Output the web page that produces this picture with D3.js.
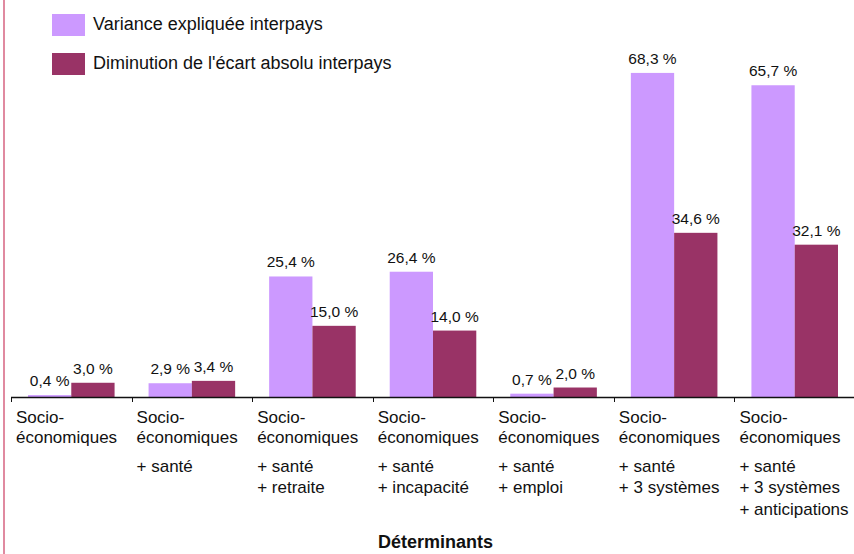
<!DOCTYPE html>
<html>
<head>
<meta charset="utf-8">
<script src="https://cdn.jsdelivr.net/npm/d3@7"></script>
<style>
  html, body { margin: 0; padding: 0; background: #fff; }
  svg { display: block; font-family: Arial, "Liberation Sans", sans-serif; }
</style>
</head>
<body>
<svg id="chart" width="854" height="554"></svg>
<script>
// ---- data ----
const categories = [
  ["Socio-", "économiques"],
  ["Socio-", "économiques", "+ santé"],
  ["Socio-", "économiques", "+ santé", "+ retraite"],
  ["Socio-", "économiques", "+ santé", "+ incapacité"],
  ["Socio-", "économiques", "+ santé", "+ emploi"],
  ["Socio-", "économiques", "+ santé", "+ 3 systèmes"],
  ["Socio-", "économiques", "+ santé", "+ 3 systèmes", "+ anticipations"]
];
const seriesNames = ["Variance expliquée interpays", "Diminution de l'écart absolu interpays"];
const varianceValues = [0.4, 2.9, 25.4, 26.4, 0.7, 68.3, 65.7];
const diminutionValues = [3.0, 3.4, 15.0, 14.0, 2.0, 34.6, 32.1];
const xAxisTitle = "Déterminants";
const colors = ["#cc99ff", "#993366"];

// ---- layout ----
const svg = d3.select("#chart");
const baseY = 397;
const x = d3.scaleBand().domain(d3.range(categories.length)).range([11, 855]).paddingInner(0).paddingOuter(0);
const y = d3.scaleLinear().domain([0, 70]).range([baseY, baseY - 70 * 4.745]);
const inner = d3.scaleBand().domain([0, 1]).range([17, x.bandwidth() - 17]);

// left pink border
svg.append("rect").attr("x", 3).attr("y", 0).attr("width", 2).attr("height", 554).attr("fill", "#e08aa0");

const series = [varianceValues, diminutionValues];
series.forEach((vals, si) => {
  const g = svg.append("g");
  g.selectAll("rect").data(vals).join("rect")
    .attr("x", (d, i) => x(i) + inner(si))
    .attr("y", d => y(d))
    .attr("width", inner.bandwidth())
    .attr("height", d => y(0) - y(d))
    .attr("fill", colors[si]);
  g.selectAll("text").data(vals).join("text")
    .attr("x", (d, i) => x(i) + inner(si) + inner.bandwidth() / 2)
    .attr("y", d => y(d) - 9)
    .attr("text-anchor", "middle")
    .attr("font-size", 15.5)
    .attr("fill", "#111")
    .text(d => d.toFixed(1).replace(".", ",") + " %");
});

// axis
svg.append("line").attr("x1", 11).attr("x2", 854).attr("y1", baseY + 0.5).attr("y2", baseY + 0.5)
  .attr("stroke", "#111").attr("stroke-width", 1.5);
const ticks = d3.range(categories.length + 1).map(i => i < categories.length ? x(i) : x(categories.length - 1) + x.bandwidth());
svg.selectAll("line.tick").data(ticks).join("line").attr("class", "tick")
  .attr("x1", d => Math.round(d) + 0.5).attr("x2", d => Math.round(d) + 0.5)
  .attr("y1", baseY).attr("y2", baseY + 5).attr("stroke", "#111");

// category labels
const lineYs = [423, 443, 471.5, 493, 515];
categories.forEach((lines, i) => {
  const t = svg.append("text").attr("font-size", 17).attr("fill", "#111");
  lines.forEach((ln, j) => {
    t.append("tspan").attr("x", x(i) + 5).attr("y", lineYs[j]).text(ln);
  });
});

// axis title
svg.append("text").attr("x", 435.5).attr("y", 548).attr("text-anchor", "middle")
  .attr("font-size", 18).attr("font-weight", "bold").attr("fill", "#111").text(xAxisTitle);

// legend
const legY = [14, 53];
const legTextY = [30, 69];
seriesNames.forEach((name, i) => {
  svg.append("rect").attr("x", 52).attr("y", legY[i]).attr("width", 33).attr("height", 22).attr("fill", colors[i]);
  svg.append("text").attr("x", 93).attr("y", legTextY[i]).attr("font-size", 18).attr("fill", "#111").text(name);
});
</script>
</body>
</html>
